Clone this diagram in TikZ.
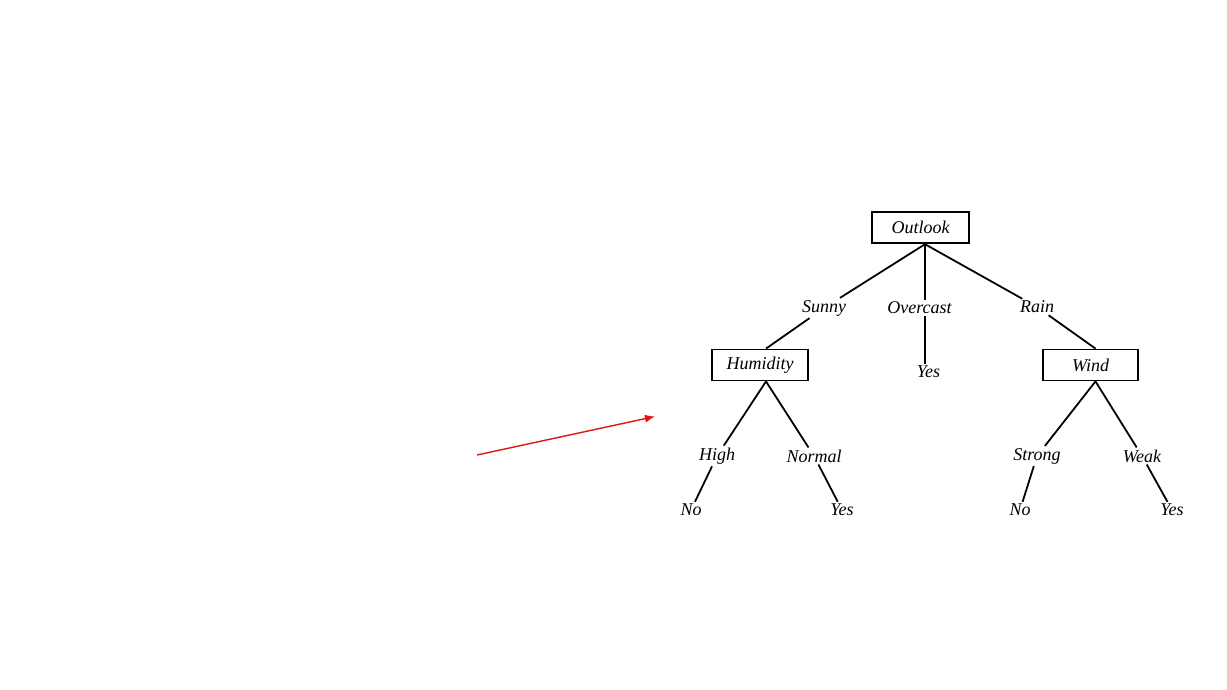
\documentclass[tikz,border=0pt]{standalone}
\usepackage{fontspec}
\setmainfont{Liberation Serif}
\usetikzlibrary{arrows.meta,calc}

\tikzset{
  test/.style={draw, line width=1.8pt, minimum height=31pt, inner sep=0pt,
               font=\fontsize{18}{20}\selectfont\itshape},
  branch/.style={inner sep=2pt, font=\fontsize{18}{20}\selectfont\itshape},
  leaf/.style={inner sep=2pt, font=\fontsize{18}{20}\selectfont\itshape},
  edge/.style={line width=1.8pt},
  pointer/.style={draw={rgb,255:red,225;green,20;blue,20}, line width=1.4pt,
                  -{Latex[length=10pt,width=8pt]}}
}

\begin{document}
\begin{tikzpicture}[x=1pt,y=-1pt]
  \useasboundingbox (0,0) rectangle (1227,690);

  % decision nodes
  \node[test, line width=2.4pt, minimum width=97pt] (outlook) at (920.5,227.5) {Outlook};
  \node[test, minimum width=96pt] (humidity) at (760,365) {Humidity};
  \node[test, minimum width=95pt] (wind) at (1090.5,365) {Wind};

  % branch apexes just right of each box centre
  \coordinate (po) at ([xshift=4.5pt]outlook.south);
  \coordinate (ph) at ([xshift=6pt]humidity.south);
  \coordinate (pw) at ([xshift=5pt]wind.south);
  \coordinate (th) at ([xshift=6pt]humidity.north);
  \coordinate (tw) at ([xshift=5pt]wind.north);

  % branch labels
  \node[branch] (sunny)    at (824,308) {Sunny};
  \node[branch] (overcast) at (919.5,308) {Overcast};
  \node[branch] (rain)     at (1037,307) {Rain};
  \node[branch] (high)     at (717,456) {High};
  \node[branch] (normal)   at (814,456) {Normal};
  \node[branch] (strong)   at (1037,456) {Strong};
  \node[branch] (weak)     at (1142,456) {Weak};

  % leaves
  \node[leaf] (yes1) at (928.5,372) {Yes};
  \node[leaf] (no1)  at (691,510) {No};
  \node[leaf] (yes2) at (842,510) {Yes};
  \node[leaf] (no2)  at (1020,510) {No};
  \node[leaf] (yes3) at (1172,510) {Yes};

  % Outlook branches
  \draw[edge] (po) -- (sunny);
  \draw[edge] (sunny) -- (th);
  \draw[edge] (po) -- (po |- overcast.north);
  \draw[edge] (po |- overcast.south) -- (po |- yes1.north);
  \draw[edge] (po) -- (rain);
  \draw[edge] (rain) -- (tw);

  % Humidity branches
  \draw[edge] (ph) -- (high);
  \draw[edge] (high) -- (no1);
  \draw[edge] (ph) -- (normal);
  \draw[edge] (normal) -- (yes2);

  % Wind branches
  \draw[edge] (pw) -- (strong);
  \draw[edge] (strong) -- (no2);
  \draw[edge] (pw) -- (weak);
  \draw[edge] (weak) -- (yes3);

  % red pointer
  \coordinate (ptail) at (477,455);
  \coordinate (phead) at (655,416.5);
  \draw[pointer] (ptail) -- (phead);
\end{tikzpicture}
\end{document}
